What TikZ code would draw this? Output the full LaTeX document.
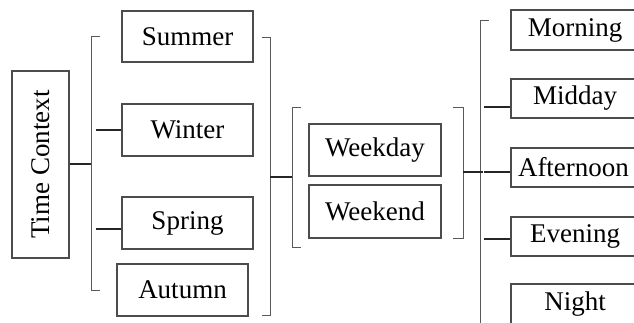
\documentclass[tikz,border=0pt]{standalone}
\usepackage{fontspec}
\setmainfont{Liberation Serif}
\begin{document}
\begin{tikzpicture}[x=1pt, y=-1pt,
  box/.style={draw=black!70, line width=1.1pt, rectangle, inner sep=0pt,
    font=\fontsize{27}{32}\selectfont, text=black},
  brk/.style={draw=black!65, line width=1pt},
  link/.style={draw=black!85, line width=1.3pt}]
\useasboundingbox (0,0) rectangle (634,322);
\clip (0,0) rectangle (634,322);

% root
\node[box, minimum width=57pt, minimum height=187pt] (tc) at (40.5,164.5)
  {\rotatebox{90}{Time Context}};

% seasons
\node[box, minimum width=131pt, minimum height=51pt] (summer) at (187.5,36.5) {Summer};
\node[box, minimum width=131pt, minimum height=52pt] (winter) at (187.5,130) {Winter};
\node[box, minimum width=131pt, minimum height=52pt] (spring) at (187.5,223) {Spring};
\node[box, minimum width=131pt, minimum height=52pt] (autumn) at (182.5,290) {Autumn};

% day type
\node[box, minimum width=132pt, minimum height=52pt] (weekday) at (375,150) {Weekday};
\node[box, minimum width=132pt, minimum height=53pt] (weekend) at (375,211.5) {Weekend};

% time of day
\node[box, minimum width=128pt, minimum height=40pt] (morning) at (575,30) {Morning};
\node[box, minimum width=128pt, minimum height=39pt] (midday) at (575,98.5) {Midday};
\node[box, minimum width=128pt, minimum height=39pt, text width=114pt, align=left]
  (afternoon) at (575,167.5) {Afternoon};
\node[box, minimum width=128pt, minimum height=39pt] (evening) at (575,236.5) {Evening};
\node[box, minimum width=128pt, minimum height=40pt] (night) at (575,304) {Night};

% brackets
\draw[brk] (100,36) -- (91,36) -- (91,290) -- (100,290);
\draw[brk] (262,37) -- (270,37) -- (270,315) -- (262,315);
\draw[brk] (301,107) -- (292,107) -- (292,247) -- (301,247);
\draw[brk] (453,107) -- (463,107) -- (463,238) -- (453,238);
\draw[brk] (489,20) -- (480,20) -- (480,330);

% junction points on the brackets
\coordinate (j1) at (91,164);
\coordinate (j2a) at (270,177);
\coordinate (j2b) at (292,177);
\coordinate (j3a) at (463,172);
\coordinate (j3b) at (483,172);
\coordinate (tw) at (96,130);
\coordinate (ts) at (96,229);
\coordinate (tm) at (484,107);
\coordinate (ta) at (484,172);
\coordinate (te) at (484,239);

% connectors
\draw[link] (tc.east |- j1) -- (j1);
\draw[link] (tw) -- (tw -| winter.west);
\draw[link] (ts) -- (ts -| spring.west);
\draw[link] (j2a) -- (j2b);
\draw[link] (j3a) -- (j3b);
\draw[link] (tm) -- (tm -| midday.west);
\draw[link] (ta) -- (ta -| afternoon.west);
\draw[link] (te) -- (te -| evening.west);
\end{tikzpicture}
\end{document}
